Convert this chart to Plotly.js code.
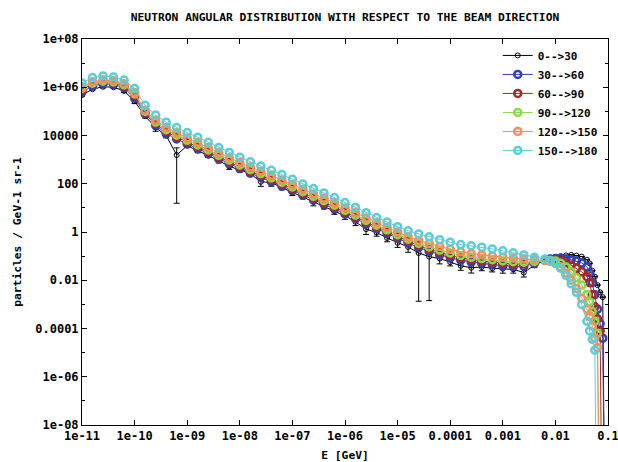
<!DOCTYPE html>
<html>
<head>
<meta charset="utf-8">
<script src="https://cdn.plot.ly/plotly-3.0.1.min.js"></script>
<style>html,body{margin:0;padding:0;background:#fff;}#chart{width:618px;height:462px;}</style>
</head>
<body>
<div id="chart"></div>
<script>
// Energy bins (GeV)
var energy = [
  1e-11, 1.585e-11, 2.512e-11, 3.981e-11, 6.310e-11,
  1e-10, 1.585e-10, 2.512e-10, 3.981e-10, 6.310e-10,
  1e-9, 1.585e-9, 2.512e-9, 3.981e-9, 6.310e-9,
  1e-8, 1.585e-8, 2.512e-8, 3.981e-8, 6.310e-8,
  1e-7, 1.585e-7, 2.512e-7, 3.981e-7, 6.310e-7,
  1e-6, 1.585e-6, 2.512e-6, 3.981e-6, 6.310e-6,
  1e-5, 1.585e-5, 2.512e-5, 3.981e-5, 6.310e-5,
  1e-4, 1.585e-4, 2.512e-4, 3.981e-4, 6.310e-4,
  1e-3, 1.585e-3, 2.512e-3, 3.981e-3, 6.310e-3,
  7.943e-3, 1e-2, 1.259e-2, 1.585e-2, 1.995e-2,
  2.512e-2, 3.162e-2, 3.981e-2, 4.467e-2, 5.012e-2,
  5.623e-2, 6.310e-2, 7.079e-2, 7.943e-2, 8.913e-2
];

// log10 of particles / GeV-1 sr-1 (null = no point)
var log_0_30 = [
  5.68, 5.92, 6.02, 6.00, 5.85, 5.42, 4.80, 4.33, 4.00, 3.19,
  3.58, 3.38, 3.16, 2.96, 2.72, 2.58, 2.42, 2.08, 2.05, 1.84,
  1.64, 1.47, 1.24, 1.05, 0.86, 0.68, 0.42, 0.12, -0.02, -0.25,
  -0.45, -0.62, -0.87, -1.02, -1.10, -1.25, -1.40, -1.48, -1.45, -1.50,
  -1.52, -1.55, -1.68, -1.38, -1.18, -1.10, -1.05, -1.00, -0.97, -0.95,
  -0.98, -1.02, -1.15, -1.30, -1.60, -1.85, -2.20, -2.50, -2.70, -15
];
var relErr_0_30 = [
  0.10, 0.08, 0.10, 0.10, 0.15, 0.20, 0.15, 0.30, 0.20, 0.99,
  0.15, 0.20, 0.15, 0.20, 0.25, 0.20, 0.20, 0.35, 0.30, 0.20,
  0.25, 0.20, 0.30, 0.20, 0.25, 0.30, 0.30, 0.40, 0.30, 0.30,
  0.35, 0.40, 0.99, 0.985, 0.40, 0.30, 0.35, 0.40, 0.30, 0.30,
  0.35, 0.30, 0.35, 0.20, 0.10, 0, 0, 0, 0, 0,
  0, 0, 0, 0, 0, 0, 0, 0, 0, 0
];
var log_30_60 = [
  5.80, 6.05, 6.15, 6.12, 5.98, 5.55, 4.90, 4.42, 4.08, 3.86,
  3.65, 3.46, 3.25, 3.03, 2.83, 2.63, 2.44, 2.27, 2.09, 1.91,
  1.72, 1.52, 1.33, 1.15, 0.96, 0.75, 0.55, 0.33, 0.13, -0.06,
  -0.26, -0.46, -0.64, -0.80, -0.95, -1.07, -1.17, -1.25, -1.30, -1.35,
  -1.40, -1.43, -1.42, -1.30, -1.17, -1.12, -1.10, -1.10, -1.12, -1.15,
  -1.20, -1.28, -1.45, -1.70, -2.10, -2.60, -3.20, -3.80, -4.40, -15
];
var log_60_90 = [
  5.90, 6.15, 6.25, 6.20, 6.05, 5.65, 4.97, 4.50, 4.16, 3.93,
  3.72, 3.53, 3.32, 3.10, 2.90, 2.70, 2.51, 2.34, 2.16, 1.98,
  1.79, 1.59, 1.40, 1.22, 1.03, 0.82, 0.62, 0.40, 0.20, 0.01,
  -0.19, -0.38, -0.56, -0.72, -0.85, -0.97, -1.07, -1.15, -1.20, -1.25,
  -1.30, -1.33, -1.32, -1.25, -1.17, -1.15, -1.15, -1.20, -1.28, -1.38,
  -1.50, -1.65, -1.85, -2.10, -2.60, -3.10, -3.60, -4.10, -15, null
];
var log_90_120 = [
  5.95, 6.17, 6.25, 6.22, 6.10, 5.72, 5.00, 4.55, 4.24, 4.01,
  3.80, 3.61, 3.40, 3.18, 2.98, 2.78, 2.59, 2.42, 2.24, 2.06,
  1.87, 1.67, 1.48, 1.30, 1.11, 0.90, 0.70, 0.48, 0.28, 0.09,
  -0.11, -0.30, -0.47, -0.62, -0.75, -0.87, -0.97, -1.05, -1.10, -1.15,
  -1.20, -1.23, -1.25, -1.22, -1.18, -1.18, -1.20, -1.30, -1.45, -1.65,
  -1.90, -2.20, -2.60, -2.90, -3.30, -3.70, -4.20, -15, null, null
];
var log_120_150 = [
  6.00, 6.22, 6.30, 6.27, 6.15, 5.78, 5.05, 4.63, 4.33, 4.11,
  3.90, 3.71, 3.50, 3.28, 3.08, 2.88, 2.69, 2.52, 2.34, 2.16,
  1.97, 1.77, 1.58, 1.40, 1.21, 1.00, 0.80, 0.58, 0.38, 0.19,
  0.00, -0.20, -0.35, -0.48, -0.60, -0.72, -0.82, -0.90, -0.95, -1.00,
  -1.05, -1.08, -1.12, -1.15, -1.17, -1.22, -1.30, -1.45, -1.70, -2.00,
  -2.35, -2.75, -3.20, -3.50, -3.90, -4.40, -4.80, -15, null, null
];
var log_150_180 = [
  6.18, 6.40, 6.47, 6.42, 6.30, 5.95, 5.25, 4.85, 4.55, 4.33,
  4.12, 3.93, 3.72, 3.50, 3.30, 3.10, 2.91, 2.74, 2.56, 2.38,
  2.19, 1.99, 1.80, 1.62, 1.43, 1.22, 1.02, 0.80, 0.60, 0.41,
  0.22, 0.05, -0.08, -0.20, -0.32, -0.42, -0.52, -0.57, -0.63, -0.70,
  -0.78, -0.86, -0.95, -1.05, -1.12, -1.18, -1.30, -1.50, -1.80, -2.15,
  -2.50, -3.00, -3.70, -4.10, -4.45, -4.90, -15, null, null, null
];

var seriesNames = ['0-->30', '30-->60', '60-->90', '90-->120', '120-->150', '150-->180'];
var seriesLogs = [log_0_30, log_30_60, log_60_90, log_90_120, log_120_150, log_150_180];
var seriesColors = ['#000000', '#3040b8', '#a82828', '#8ad848', '#ff8a5a', '#5ccdd6'];

var xTickVals = [1e-11, 1e-10, 1e-9, 1e-8, 1e-7, 1e-6, 1e-5, 1e-4, 1e-3, 1e-2, 1e-1];
var xTickText = ['1e-11', '1e-10', '1e-09', '1e-08', '1e-07', '1e-06', '1e-05', '0.0001', '0.001', '0.01', '0.1'];
var yTickVals = [1e-8, 1e-6, 1e-4, 1e-2, 1, 1e2, 1e4, 1e6, 1e8];
var yTickText = ['1e-08', '1e-06', '0.0001', '0.01', '1', '100', '10000', '1e+06', '1e+08'];
var yMinorVals = [1e-7, 1e-5, 1e-3, 1e-1, 10, 1e3, 1e5, 1e7];

var FONT = 'DejaVu Sans Mono, monospace';

var traces = seriesLogs.map(function (logs, i) {
  var xs = [], ys = [], errs = [];
  logs.forEach(function (v, j) {
    if (v === null) return;
    var y = Math.pow(10, v);
    xs.push(energy[j]);
    ys.push(y);
    errs.push(i === 0 ? y * relErr_0_30[j] : 0);
  });
  var t = {
    type: 'scatter',
    mode: 'lines+markers',
    name: seriesNames[i],
    x: xs,
    y: ys,
    line: { color: seriesColors[i], width: 1 },
    marker: { symbol: 'circle-open', size: i === 0 ? 5 : 7, color: seriesColors[i], line: { width: i === 0 ? 1 : 2.5, color: seriesColors[i] } }
  };
  if (i === 0) {
    t.error_y = { type: 'data', array: errs, visible: true, color: '#000000', thickness: 1, width: 3 };
  }
  return t;
});

var layout = {
  width: 618,
  height: 462,
  margin: { l: 82, r: 10, t: 39, b: 37 },
  paper_bgcolor: '#ffffff',
  plot_bgcolor: '#ffffff',
  showlegend: true,
  title: {
    text: 'NEUTRON ANGULAR DISTRIBUTION WITH RESPECT TO THE BEAM DIRECTION',
    font: { family: FONT, size: 11.3, color: '#000', weight: 'bold' },
    xref: 'paper', x: 0.5, xanchor: 'center',
    yref: 'container', y: 1 - 17 / 462, yanchor: 'middle'
  },
  xaxis: {
    type: 'log',
    range: [-11, -1],
    tickmode: 'array',
    tickvals: xTickVals,
    ticktext: xTickText,
    ticks: 'inside',
    ticklen: 5,
    tickcolor: '#000',
    ticklabeloverflow: 'allow',
    showline: true,
    linecolor: '#000',
    linewidth: 1,
    mirror: 'ticks',
    showgrid: false,
    zeroline: false,
    tickfont: { family: FONT, size: 12, color: '#000', weight: 'bold' },
    title: { text: 'E [GeV]', font: { family: FONT, size: 11.3, color: '#000', weight: 'bold' }, standoff: 8 }
  },
  yaxis: {
    type: 'log',
    range: [-8, 8],
    tickmode: 'array',
    tickvals: yTickVals,
    ticktext: yTickText,
    ticks: 'inside',
    ticklen: 5,
    tickcolor: '#000',
    ticklabeloverflow: 'allow',
    minor: { tickmode: 'array', tickvals: yMinorVals, ticks: 'inside', ticklen: 3, tickcolor: '#000', showgrid: false },
    showline: true,
    linecolor: '#000',
    linewidth: 1,
    mirror: 'ticks',
    showgrid: false,
    zeroline: false,
    tickfont: { family: FONT, size: 12, color: '#000', weight: 'bold' },
    title: { text: 'particles / GeV-1 sr-1', font: { family: FONT, size: 11.3, color: '#000', weight: 'bold' }, standoff: 11 }
  },
  legend: {
    x: 0.99, y: 0.995, xanchor: 'right', yanchor: 'top',
    bgcolor: 'rgba(0,0,0,0)',
    font: { family: FONT, size: 11, color: '#000', weight: 'bold' },
    tracegroupgap: 0,
    itemwidth: 30
  }
};

Plotly.newPlot('chart', traces, layout, { staticPlot: true, displayModeBar: false });
</script>
</body>
</html>
